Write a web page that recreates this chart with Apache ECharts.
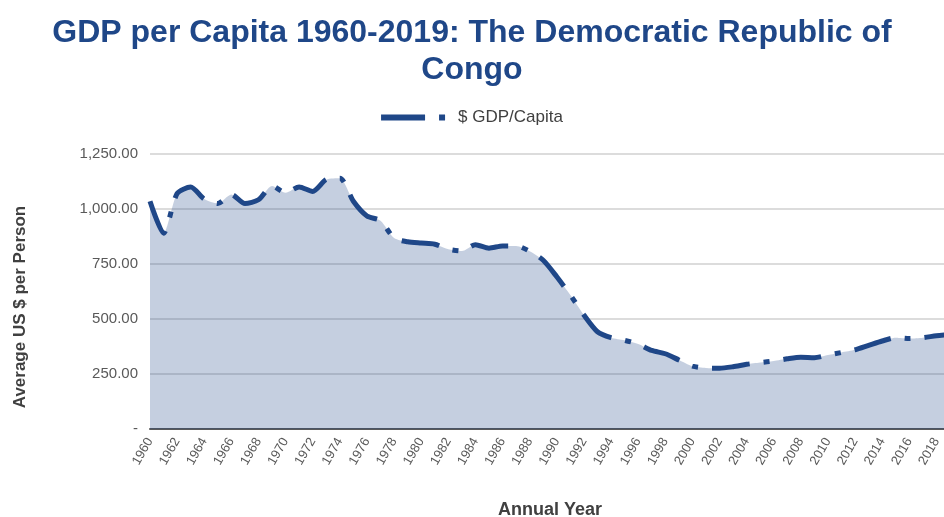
<!DOCTYPE html>
<html>
<head>
<meta charset="utf-8">
<script src="https://cdn.jsdelivr.net/npm/echarts@6/dist/echarts.min.js"></script>
<style>html,body{margin:0;padding:0;background:#fff}#c{width:944px;height:517px}</style>
</head>
<body>
<div id="c"></div>
<script>
const years = [];
for (let y = 1960; y <= 2019; y++) years.push(String(y));
const gdpPerCapita = [
  1035, 890, 1070, 1100, 1045, 1025, 1066, 1025, 1042, 1105,
  1074, 1100, 1080, 1134, 1140, 1035, 968, 947, 868, 851,
  845, 840, 817, 809, 838, 822, 832, 832, 808, 767,
  692, 609, 518, 442, 415, 403, 386, 357, 342, 314,
  286, 277, 276, 283, 294, 302, 309, 319, 326, 324,
  336, 348, 360, 380, 400, 415, 411, 415, 424, 430
];
const yTicks = [0, 250, 500, 750, 1000, 1250];

function fmt(v) {
  if (v === 0) return '-';
  const s = v.toFixed(2);
  const [i, d] = s.split('.');
  return i.replace(/\B(?=(\d{3})+(?!\d))/g, ',') + '.' + d;
}

const chart = echarts.init(document.getElementById('c'), null, {renderer: 'canvas'});
chart.setOption({
  animation: false,
  backgroundColor: '#ffffff',
  textStyle: {fontFamily: 'Liberation Sans, Arial, sans-serif'},
  title: {
    text: 'GDP per Capita 1960-2019: The Democratic Republic of\nCongo',
    left: 'center',
    top: 10,
    textStyle: {fontSize: 32, fontWeight: 'bold', color: '#1F4788', lineHeight: 37, fontFamily: 'Liberation Sans, Arial, sans-serif'}
  },
  legend: {
    top: 104,
    left: 'center',
    icon: 'path://M0,0H44V6H0Z M58,0H64V6H58Z',
    itemWidth: 64,
    itemHeight: 6,
    itemGap: 10,
    textStyle: {fontSize: 17, color: '#404040', padding: [0, 0, 0, 8]},
    data: ['$ GDP/Capita']
  },
  graphic: [{
    type: 'text',
    x: 20, y: 307,
    rotation: Math.PI / 2,
    style: {
      text: 'Average US $ per Person',
      fontSize: 17, fontWeight: 'bold', fill: '#404040',
      fontFamily: 'Liberation Sans, Arial, sans-serif',
      align: 'center', verticalAlign: 'middle'
    }
  }],
  grid: {left: 150, right: -6, top: 154, bottom: 88, containLabel: false, outerBoundsMode: 'none'},
  xAxis: {
    type: 'category',
    data: years,
    boundaryGap: false,
    name: 'Annual Year',
    nameLocation: 'middle',
    nameGap: 72,
    nameTextStyle: {fontSize: 18, fontWeight: 'bold', color: '#404040'},
    axisLine: {lineStyle: {color: '#595959', width: 2}},
    axisTick: {show: false},
    axisLabel: {interval: 1, rotate: 60, fontSize: 13, color: '#595959', margin: 10},
    splitLine: {show: false}
  },
  yAxis: {
    type: 'value',
    min: 0, max: 1250, interval: 250,
    axisLine: {show: false},
    axisTick: {show: false},
    axisLabel: {fontSize: 15, color: '#595959', margin: 12, formatter: v => yTicks.includes(v) ? fmt(v) : ''},
    splitLine: {lineStyle: {color: '#d0d0d0', width: 1.5}}
  },
  series: [{
    name: '$ GDP/Capita',
    type: 'line',
    data: gdpPerCapita,
    smooth: 0.25,
    symbol: 'none',
    showSymbol: false,
    color: '#1F4788',
    lineStyle: {color: '#1F4788', width: 5, type: [38, 14, 6, 14], cap: 'butt'},
    areaStyle: {color: '#1F4788', opacity: 0.26}
  }]
});
</script>
</body>
</html>
